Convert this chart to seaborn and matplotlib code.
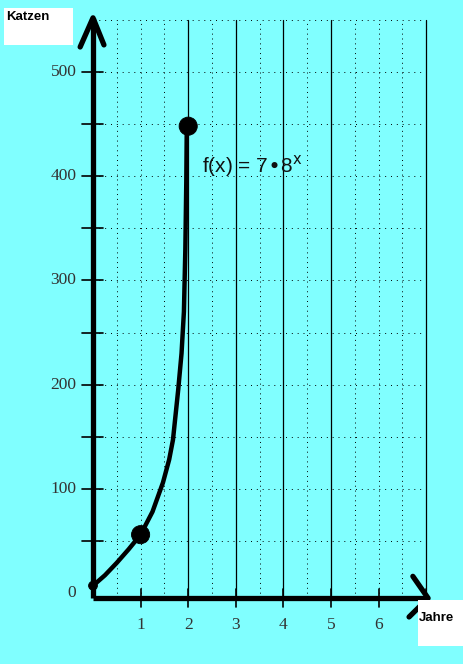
import numpy as np
import pandas as pd
import matplotlib
matplotlib.use("Agg")
import matplotlib.pyplot as plt
from matplotlib.patches import Rectangle
import seaborn as sns

curve_x = [0, 0.25, 0.5, 0.75, 1.0, 1.25, 1.47, 1.6, 1.68, 1.79, 1.86, 1.91, 1.94, 1.96, 1.97]
curve_y = [7, 17, 29, 42, 56, 78, 106, 128, 147, 195, 230, 270, 330, 395, 448]

dot_x = [0, 1, 2]
dot_y = [7, 56, 448]
dot_size = [40, 170, 170]

x_ticks = [1, 2, 3, 4, 5, 6, 7]
x_labels = ["1", "2", "3", "4", "5", "6"]
y_ticks = [0, 100, 200, 300, 400, 500]

bg = "#80ffff"
sns.set_theme(style="white")
plt.rcParams["font.family"] = ["Liberation Sans", "DejaVu Sans"]

W, H = 463, 664
fig = plt.figure(figsize=(W / 100, H / 100), dpi=100, facecolor=bg)
ax = fig.add_axes([0, 0, 1, 1])
ax.set_facecolor(bg)

# pixel scale of the scan: 47.6 px per year, 1.042 px per cat
px_x, px_y = 47.6, 1.042
xlim = (-93 / px_x, 370 / px_x)
ylim = (-71 / px_y, 593 / px_y)

y_top = 550
x_right = 7.0

# grid
for v in np.arange(0.5, 7.01, 0.5):
    if v in (2, 3, 4, 5, 7):
        ax.plot([v, v], [-5, y_top], color="black", lw=0.9, zorder=1)
    else:
        ax.plot([v, v], [-5, y_top], color="black", lw=0.7, ls=(0, (1, 4)), zorder=1)
for h in np.arange(50, y_top + 1, 50):
    ax.plot([0, x_right], [h, h], color="black", lw=0.7, ls=(0, (1, 5)), zorder=1)

# axes with arrows
ax.plot([0, 0], [-5, 552], color="black", lw=3.8, solid_capstyle="butt", zorder=3)
ax.plot([-0.27, 0, 0.23], [524, 552, 526], color="black", lw=3.8, zorder=3)
ax.plot([0, 7.04], [-5, -5], color="black", lw=3.8, solid_capstyle="butt", zorder=3)
ax.plot([6.72, 7.04, 6.64], [16, -5, -23], color="black", lw=3.8, zorder=3)

# ticks
for h in np.arange(50, 501, 50):
    ax.plot([-0.23, 0.2], [h, h], color="black", lw=1.2, zorder=3)
for v in x_ticks:
    ax.plot([v, v], [-13, 4], color="black", lw=1.2, zorder=3)

serif = ["Liberation Serif", "DejaVu Serif"]
for v in y_ticks:
    ax.text(-0.35, v, str(v), ha="right", va="center", fontsize=12.5,
            color="#333333", family=serif)
for v, lab in zip(x_ticks, x_labels):
    ax.text(v, -31, lab, ha="center", va="center", fontsize=12.5,
            color="#333333", family=serif)

# curve and points
df = pd.DataFrame({"Jahre": curve_x, "Katzen": curve_y})
sns.lineplot(data=df, x="Jahre", y="Katzen", ax=ax, color="black", lw=3.2,
             sort=False, zorder=4)
sns.scatterplot(x=dot_x, y=dot_y, s=dot_size, color="black", ax=ax,
                edgecolor="black", zorder=5, legend=False)
ax.axis("off")
ax.set_xlim(*xlim)
ax.set_ylim(*ylim)

ax.text(2.3, 410, r"f(x) = 7$\bullet$8$^{\mathrm{x}}$", fontsize=15, color="#111111",
        ha="left", va="center", zorder=6)

# label boxes
fig.patches.append(Rectangle((4 / W, 1 - 45 / H), 69 / W, 37 / H,
                             transform=fig.transFigure, facecolor="white",
                             edgecolor="none", zorder=10))
fig.text(6 / W, 1 - 17 / H, "Katzen", ha="left", va="center", fontsize=9.5,
         fontweight="bold", color="black", zorder=11)
fig.patches.append(Rectangle((418 / W, 1 - 646 / H), 45 / W, 46 / H,
                             transform=fig.transFigure, facecolor="white",
                             edgecolor="none", zorder=10))
fig.text(419 / W, 1 - 618 / H, "Jahre", ha="left", va="center", fontsize=9.5,
         fontweight="bold", color="black", zorder=11)

fig.savefig("out.png", dpi=100, facecolor=bg)
